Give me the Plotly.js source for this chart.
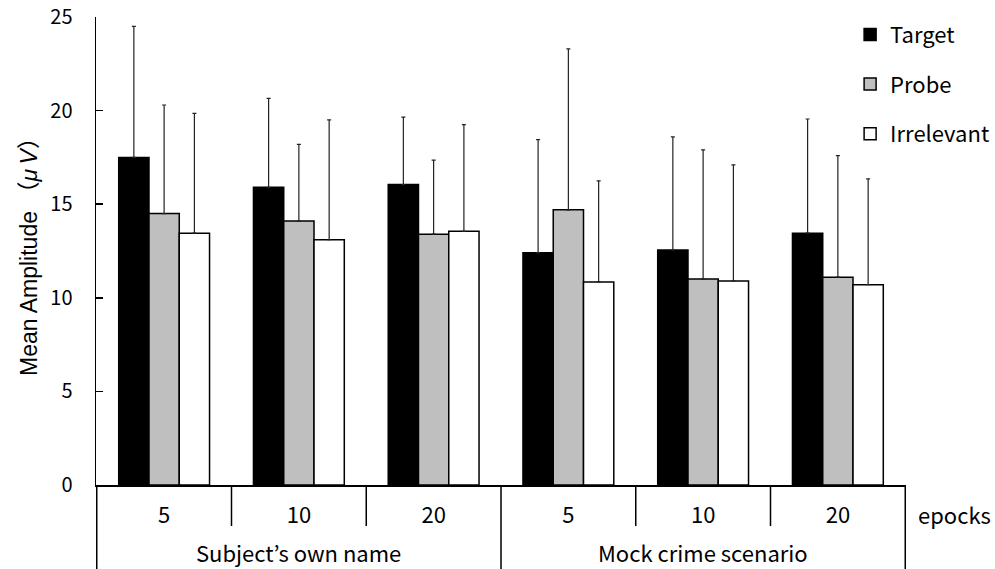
<!DOCTYPE html>
<html>
<head>
<meta charset="utf-8">
<script src="https://cdn.plot.ly/plotly-3.0.1.min.js"></script>
<style>html,body{margin:0;padding:0;background:#fff;}#chart{width:995px;height:569px;}</style>
</head>
<body>
<div id="chart"></div>
<script>
// Categories
const scenarios = ["Subject\u2019s own name", "Mock crime scenario"];
const epochs = ["5", "10", "20"];
const xCats = ["SON-5", "SON-10", "SON-20", "MCS-5", "MCS-10", "MCS-20"];
const tickLabels = ["5", "10", "20", "5", "10", "20"];
const seriesNames = ["Target", "Probe", "Irrelevant"];

// Means (µV)
const targetMean = [17.5, 15.9, 16.05, 12.4, 12.55, 13.45];
const probeMean = [14.5, 14.1, 13.4, 14.7, 11.0, 11.1];
const irrelevantMean = [13.45, 13.1, 13.55, 10.85, 10.9, 10.7];

// Upper error (SD)
const targetErr = [7.0, 4.75, 3.6, 6.05, 6.05, 6.1];
const probeErr = [5.8, 4.1, 3.95, 8.6, 6.9, 6.5];
const irrelevantErr = [6.4, 6.4, 5.7, 5.4, 6.2, 5.65];

const fills = ["#000000", "#BFBFBF", "#FFFFFF"];
const means = [targetMean, probeMean, irrelevantMean];
const errs = [targetErr, probeErr, irrelevantErr];

const baseFont = "'Noto Sans CJK JP', 'Liberation Sans', sans-serif";

const traces = seriesNames.map((name, k) => ({
  type: "bar",
  name: name,
  legendgroup: name,
  x: xCats,
  y: means[k],
  marker: { color: fills[k], line: { color: "#000000", width: 1.5 } },
  error_y: {
    type: "data",
    array: errs[k],
    arrayminus: errs[k].map(() => 0),
    symmetric: false,
    color: "#222222",
    thickness: 1.2,
    width: 2
  },
  hoverinfo: "y+name"
}));

// Divider shapes below the axis, computed from category boundaries
const shapes = [];
const H = 468; // plot height in px
for (let i = 0; i <= xCats.length; i++) {
  const isScenarioEdge = (i % epochs.length === 0);
  shapes.push({
    type: "line", xref: "x", yref: "paper",
    x0: i - 0.5, x1: i - 0.5,
    y0: 0, y1: isScenarioEdge ? -84 / H : -41 / H,
    line: { color: "#000000", width: 1.5 }
  });
}

const annotations = scenarios.map((s, j) => ({
  text: s, xref: "x", yref: "paper",
  x: xCats[j * epochs.length + 1], y: -(552 - 485) / H,
  xanchor: "center", yanchor: "middle", showarrow: false,
  font: { family: baseFont, size: 22, color: "#000" }
}));
annotations.push({
  text: "epocks", xref: "paper", yref: "paper",
  x: (916 - 96) / 810, y: -(514 - 485) / H,
  xanchor: "left", yanchor: "middle", showarrow: false,
  font: { family: baseFont, size: 22, color: "#000" }
});

const layout = {
  width: 995, height: 569,
  margin: { l: 96, r: 89, t: 17, b: 84, pad: 0, autoexpand: false },
  paper_bgcolor: "#ffffff", plot_bgcolor: "#ffffff",
  barmode: "group", bargap: 0.326, bargroupgap: 0,
  showlegend: true,
  legend: {
    x: 0.931, y: 1.007, xanchor: "left", yanchor: "top",
    font: { family: baseFont, size: 22, color: "#000" },
    traceorder: "grouped", tracegroupgap: 18,
    bgcolor: "rgba(0,0,0,0)", borderwidth: 0
  },
  xaxis: {
    type: "category",
    categoryorder: "array", categoryarray: xCats,
    tickmode: "array", tickvals: xCats, ticktext: tickLabels,
    showline: true, linecolor: "#000", linewidth: 1.5,
    ticks: "outside", ticklen: 10, tickcolor: "rgba(0,0,0,0)",
    showgrid: false, zeroline: false,
    tickfont: { family: baseFont, size: 22, color: "#000" },
    fixedrange: true
  },
  yaxis: {
    range: [0, 25], dtick: 5, tick0: 0,
    showline: true, linecolor: "#000", linewidth: 1.5,
    ticks: "inside", ticklen: 7, tickwidth: 1.5, tickcolor: "#000",
    ticklabelstandoff: 18,
    showgrid: false, zeroline: false,
    tickfont: { family: baseFont, size: 20, color: "#000" },
    title: {
      text: "Mean Amplitude \uFF08<i>\u03BC\u2009V</i>\uFF09",
      font: { family: "'Liberation Sans', 'Noto Sans CJK JP', sans-serif", size: 23, color: "#000" },
      standoff: 6
    },
    fixedrange: true
  },
  shapes: shapes,
  annotations: annotations
};

Plotly.newPlot("chart", traces, layout, { displayModeBar: false, staticPlot: true });
</script>
</body>
</html>
